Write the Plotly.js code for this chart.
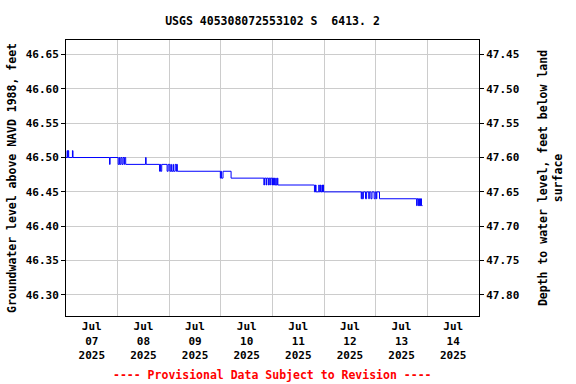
<!DOCTYPE html>
<html>
<head>
<meta charset="utf-8">
<script src="https://cdn.plot.ly/plotly-3.0.1.min.js"></script>
<style>html,body{margin:0;padding:0;background:#fff;}#chart{width:576px;height:384px;}</style>
</head>
<body>
<div id="chart"></div>
<script>
// Groundwater level readings (feet above NAVD 1988), step series
const times = [
  "2025-07-07 00:00","2025-07-07 00:30","2025-07-07 00:45","2025-07-07 01:00","2025-07-07 01:15",
  "2025-07-07 03:00","2025-07-07 03:15","2025-07-07 20:15","2025-07-07 20:30",
  "2025-07-08 00:15","2025-07-08 00:45","2025-07-08 01:00","2025-07-08 01:30","2025-07-08 02:00",
  "2025-07-08 02:30","2025-07-08 03:00","2025-07-08 03:15","2025-07-08 03:45",
  "2025-07-08 13:00","2025-07-08 13:15",
  "2025-07-08 19:30","2025-07-08 19:45","2025-07-08 20:00","2025-07-08 20:30","2025-07-08 23:00",
  "2025-07-08 23:30","2025-07-09 00:15","2025-07-09 00:45","2025-07-09 01:00","2025-07-09 01:45",
  "2025-07-09 02:00","2025-07-09 02:45","2025-07-09 03:15","2025-07-09 03:30","2025-07-09 03:45",
  "2025-07-09 23:45","2025-07-10 00:00","2025-07-10 00:15","2025-07-10 01:00",
  "2025-07-10 04:45",
  "2025-07-10 20:00","2025-07-10 20:15","2025-07-10 21:00","2025-07-10 21:15","2025-07-10 22:00",
  "2025-07-10 22:15","2025-07-10 22:45","2025-07-10 23:00","2025-07-10 23:45","2025-07-11 00:00",
  "2025-07-11 00:30","2025-07-11 00:45","2025-07-11 01:00","2025-07-11 01:30","2025-07-11 01:45",
  "2025-07-11 02:15","2025-07-11 02:30",
  "2025-07-11 19:30","2025-07-11 20:00","2025-07-11 20:15","2025-07-11 21:30","2025-07-11 21:45",
  "2025-07-11 22:15","2025-07-11 22:30","2025-07-11 23:00","2025-07-11 23:15","2025-07-11 23:30",
  "2025-07-11 23:45",
  "2025-07-12 17:15","2025-07-12 17:30","2025-07-12 17:45","2025-07-12 18:15","2025-07-12 19:15",
  "2025-07-12 19:45","2025-07-12 20:45","2025-07-12 21:00","2025-07-12 21:45","2025-07-12 22:15",
  "2025-07-12 23:15","2025-07-12 23:45","2025-07-13 00:15","2025-07-13 00:30","2025-07-13 01:45",
  "2025-07-13 19:00","2025-07-13 19:15","2025-07-13 19:45","2025-07-13 20:00","2025-07-13 20:15",
  "2025-07-13 20:30","2025-07-13 20:45","2025-07-13 21:00","2025-07-13 21:15","2025-07-13 21:45"
];
const levels = [
  46.50,46.51,46.50,46.51,46.50,
  46.51,46.50,46.49,46.50,
  46.49,46.50,46.49,46.50,46.49,
  46.50,46.49,46.50,46.49,
  46.50,46.49,
  46.48,46.49,46.48,46.49,46.48,
  46.49,46.48,46.49,46.48,46.49,
  46.48,46.49,46.48,46.49,46.48,
  46.47,46.48,46.47,46.48,
  46.47,
  46.46,46.47,46.46,46.47,46.46,
  46.47,46.46,46.47,46.46,46.47,
  46.46,46.47,46.46,46.47,46.46,
  46.47,46.46,
  46.45,46.46,46.45,46.46,46.45,
  46.46,46.45,46.46,46.45,46.46,
  46.45,
  46.44,46.45,46.44,46.45,46.44,
  46.45,46.44,46.45,46.44,46.45,
  46.44,46.45,46.44,46.45,46.44,
  46.43,46.44,46.43,46.44,46.43,
  46.44,46.43,46.44,46.43,46.43
];
// Land surface elevation relation: depth = LAND_SURFACE - level
const LAND_SURFACE = 94.10;
const depths = levels.map(v => +(LAND_SURFACE - v).toFixed(2));

const xRange = ["2025-07-07 00:00", "2025-07-15 00:00"];
const levelRange = [46.2694, 46.671];
const titleText = "USGS 405308072553102 S  6413. 2";
const footerText = "---- Provisional Data Subject to Revision ----";

const mono = "DejaVu Sans Mono, Liberation Mono, monospace";
const fnt = (size, color) => ({family: mono, size: size, color: color || "#000", weight: "bold"});

const traces = [
  {x: times, y: levels, type: "scatter", mode: "lines", line: {color: "#0000ff", width: 1, shape: "hv"},
   hoverinfo: "x+y", showlegend: false},
  {x: times, y: depths, yaxis: "y2", type: "scatter", mode: "lines", line: {color: "rgba(0,0,0,0)", width: 0},
   hoverinfo: "skip", showlegend: false}
];

const layout = {
  width: 576, height: 384,
  margin: {l: 66, r: 97, t: 40, b: 68, pad: 0},
  paper_bgcolor: "#fff", plot_bgcolor: "#fff",
  showlegend: false,
  title: {text: titleText, font: fnt(11.5), x: 0.5, xref: "paper", xanchor: "center", y: 1 - 21/384, yref: "container", yanchor: "middle"},
  xaxis: {
    type: "date", range: xRange, dtick: 86400000, tick0: "2025-07-07",
    tickformat: "%b<br>%d<br>%Y", ticklabelmode: "period",
    showgrid: true, gridcolor: "#cccccc", gridwidth: 1,
    ticks: "", showline: true, linecolor: "#000", linewidth: 1, mirror: true,
    tickfont: fnt(11), zeroline: false, fixedrange: true
  },
  yaxis: {
    range: levelRange, dtick: 0.05, tick0: 46.30, tickformat: ".2f",
    showgrid: true, gridcolor: "#cccccc", gridwidth: 1,
    ticks: "outside", ticklen: 4, tickcolor: "#000",
    showline: true, linecolor: "#000", linewidth: 1, mirror: true,
    tickfont: fnt(11), zeroline: false,
    title: {text: "Groundwater level above NAVD 1988, feet", font: fnt(11.5), standoff: 6}
  },
  yaxis2: {
    overlaying: "y", side: "right",
    range: [LAND_SURFACE - levelRange[0], LAND_SURFACE - levelRange[1]],
    dtick: 0.05, tick0: 47.45, tickformat: ".2f",
    showgrid: false, ticks: "outside", ticklen: 4, tickcolor: "#000",
    showline: true, linecolor: "#000", linewidth: 1,
    tickfont: fnt(11), zeroline: false,
    title: {text: "Depth to water level, feet below land<br>surface", font: fnt(11.5), standoff: 20}
  },
  annotations: [
    {text: footerText, xref: "paper", yref: "paper", x: 0.5, y: -59/276, xanchor: "center", yanchor: "middle",
     showarrow: false, font: fnt(11.5, "#ff0000")}
  ]
};

Plotly.newPlot("chart", traces, layout, {staticPlot: true, displayModeBar: false});
</script>
</body>
</html>
